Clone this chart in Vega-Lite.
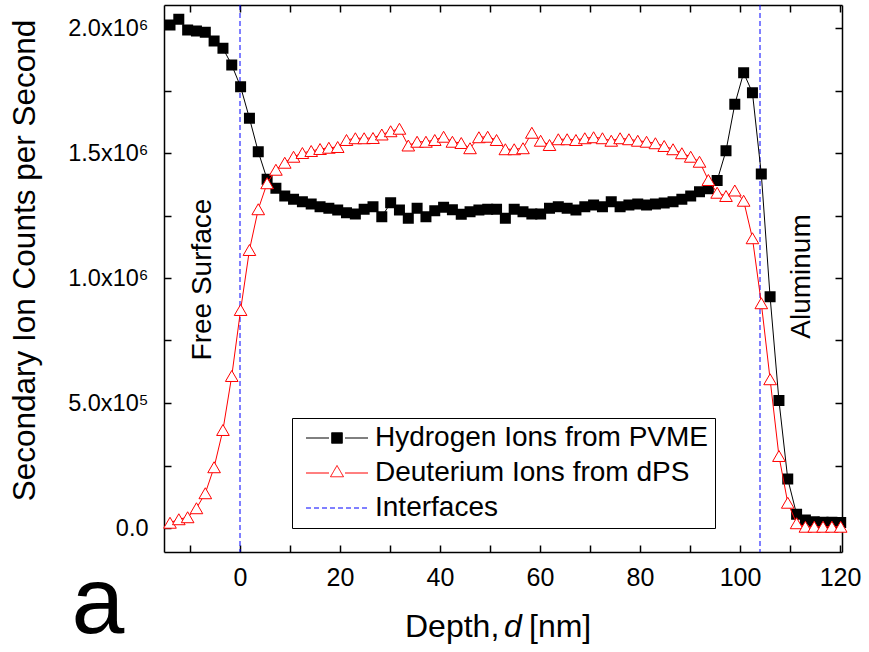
{
  "$schema": "https://vega.github.io/schema/vega-lite/v6.json",
  "width": 678,
  "height": 547,
  "autosize": {"type": "none"},
  "padding": {"left": 164, "top": 5, "right": 27, "bottom": 100},
  "background": "white",
  "config": {
    "view": {"stroke": null},
    "font": "Liberation Sans",
    "axis": {
      "domainColor": "black",
      "domainWidth": 1.5,
      "tickColor": "black",
      "tickWidth": 1.5,
      "tickSize": -7,
      "grid": false,
      "labelColor": "black",
      "labelFont": "Liberation Sans",
      "labelFlush": false,
      "labelOverlap": false,
      "labelBound": false,
      "titleColor": "black",
      "titleFont": "Liberation Sans",
      "titleFontWeight": "normal"
    },
    "legend": {
      "orient": "none",
      "legendX": 128,
      "legendY": 413,
      "padding": 6,
      "strokeColor": "black",
      "fillColor": "white",
      "symbolSize": 400,
      "symbolStrokeWidth": 1,
      "symbolOpacity": 1,
      "symbolOffset": 25,
      "labelOffset": 24,
      "labelFont": "Liberation Sans",
      "labelFontSize": 28,
      "labelColor": "black",
      "labelLimit": 500,
      "rowPadding": 7
    }
  },
  "datasets": {
    "profile": [
      {"depth": -14.00, "hydrogen": 2012000, "deuterium": 21000},
      {"depth": -12.24, "hydrogen": 2035000, "deuterium": 35000},
      {"depth": -10.47, "hydrogen": 1992000, "deuterium": 43000},
      {"depth": -8.71, "hydrogen": 1988000, "deuterium": 79000},
      {"depth": -6.94, "hydrogen": 1983000, "deuterium": 139000},
      {"depth": -5.18, "hydrogen": 1948000, "deuterium": 243000},
      {"depth": -3.41, "hydrogen": 1919000, "deuterium": 392000},
      {"depth": -1.65, "hydrogen": 1852000, "deuterium": 608000},
      {"depth": 0.12, "hydrogen": 1765000, "deuterium": 872000},
      {"depth": 1.89, "hydrogen": 1639000, "deuterium": 1112000},
      {"depth": 3.65, "hydrogen": 1505000, "deuterium": 1275000},
      {"depth": 5.42, "hydrogen": 1395000, "deuterium": 1379000},
      {"depth": 7.18, "hydrogen": 1359000, "deuterium": 1433000},
      {"depth": 8.95, "hydrogen": 1328000, "deuterium": 1461000},
      {"depth": 10.71, "hydrogen": 1315000, "deuterium": 1485000},
      {"depth": 12.48, "hydrogen": 1305000, "deuterium": 1500000},
      {"depth": 14.24, "hydrogen": 1296000, "deuterium": 1508000},
      {"depth": 16.01, "hydrogen": 1285000, "deuterium": 1516000},
      {"depth": 17.77, "hydrogen": 1279000, "deuterium": 1521000},
      {"depth": 19.54, "hydrogen": 1272000, "deuterium": 1524000},
      {"depth": 21.30, "hydrogen": 1261000, "deuterium": 1552000},
      {"depth": 23.07, "hydrogen": 1256000, "deuterium": 1559000},
      {"depth": 24.83, "hydrogen": 1275000, "deuterium": 1559000},
      {"depth": 26.60, "hydrogen": 1285000, "deuterium": 1560000},
      {"depth": 28.36, "hydrogen": 1245000, "deuterium": 1574000},
      {"depth": 30.13, "hydrogen": 1301000, "deuterium": 1587000},
      {"depth": 31.89, "hydrogen": 1272000, "deuterium": 1597000},
      {"depth": 33.66, "hydrogen": 1239000, "deuterium": 1530000},
      {"depth": 35.42, "hydrogen": 1279000, "deuterium": 1545000},
      {"depth": 37.19, "hydrogen": 1245000, "deuterium": 1545000},
      {"depth": 38.95, "hydrogen": 1269000, "deuterium": 1552000},
      {"depth": 40.72, "hydrogen": 1283000, "deuterium": 1565000},
      {"depth": 42.48, "hydrogen": 1273000, "deuterium": 1545000},
      {"depth": 44.25, "hydrogen": 1255000, "deuterium": 1540000},
      {"depth": 46.01, "hydrogen": 1265000, "deuterium": 1519000},
      {"depth": 47.78, "hydrogen": 1272000, "deuterium": 1563000},
      {"depth": 49.54, "hydrogen": 1275000, "deuterium": 1565000},
      {"depth": 51.31, "hydrogen": 1275000, "deuterium": 1552000},
      {"depth": 53.07, "hydrogen": 1239000, "deuterium": 1515000},
      {"depth": 54.84, "hydrogen": 1275000, "deuterium": 1515000},
      {"depth": 56.60, "hydrogen": 1265000, "deuterium": 1519000},
      {"depth": 58.37, "hydrogen": 1256000, "deuterium": 1581000},
      {"depth": 60.13, "hydrogen": 1256000, "deuterium": 1549000},
      {"depth": 61.90, "hydrogen": 1279000, "deuterium": 1532000},
      {"depth": 63.66, "hydrogen": 1285000, "deuterium": 1555000},
      {"depth": 65.43, "hydrogen": 1279000, "deuterium": 1555000},
      {"depth": 67.19, "hydrogen": 1272000, "deuterium": 1552000},
      {"depth": 68.96, "hydrogen": 1285000, "deuterium": 1559000},
      {"depth": 70.72, "hydrogen": 1292000, "deuterium": 1563000},
      {"depth": 72.49, "hydrogen": 1285000, "deuterium": 1559000},
      {"depth": 74.25, "hydrogen": 1305000, "deuterium": 1549000},
      {"depth": 76.02, "hydrogen": 1285000, "deuterium": 1559000},
      {"depth": 77.78, "hydrogen": 1292000, "deuterium": 1555000},
      {"depth": 79.55, "hydrogen": 1296000, "deuterium": 1549000},
      {"depth": 81.31, "hydrogen": 1292000, "deuterium": 1545000},
      {"depth": 83.08, "hydrogen": 1296000, "deuterium": 1539000},
      {"depth": 84.84, "hydrogen": 1300000, "deuterium": 1528000},
      {"depth": 86.61, "hydrogen": 1305000, "deuterium": 1515000},
      {"depth": 88.37, "hydrogen": 1315000, "deuterium": 1499000},
      {"depth": 90.14, "hydrogen": 1328000, "deuterium": 1485000},
      {"depth": 91.90, "hydrogen": 1345000, "deuterium": 1465000},
      {"depth": 93.67, "hydrogen": 1357000, "deuterium": 1392000},
      {"depth": 95.43, "hydrogen": 1390000, "deuterium": 1341000},
      {"depth": 97.20, "hydrogen": 1509000, "deuterium": 1328000},
      {"depth": 98.96, "hydrogen": 1695000, "deuterium": 1350000},
      {"depth": 100.73, "hydrogen": 1821000, "deuterium": 1309000},
      {"depth": 102.49, "hydrogen": 1741000, "deuterium": 1159000},
      {"depth": 104.26, "hydrogen": 1416000, "deuterium": 899000},
      {"depth": 106.02, "hydrogen": 925000, "deuterium": 595000},
      {"depth": 107.79, "hydrogen": 510000, "deuterium": 288000},
      {"depth": 109.55, "hydrogen": 196000, "deuterium": 101000},
      {"depth": 111.32, "hydrogen": 55000, "deuterium": 19000},
      {"depth": 113.08, "hydrogen": 32000, "deuterium": 5000},
      {"depth": 114.85, "hydrogen": 25000, "deuterium": 5000},
      {"depth": 116.61, "hydrogen": 23000, "deuterium": 5000},
      {"depth": 118.38, "hydrogen": 23000, "deuterium": 5000},
      {"depth": 120.14, "hydrogen": 22000, "deuterium": 5000}
    ]
  },
  "layer": [
    {
      "data": {"values": [{"depth": 0}, {"depth": 104}]},
      "mark": {"type": "rule", "color": "#0000ff", "strokeDash": [5, 3], "strokeWidth": 1},
      "encoding": {
        "x": {"field": "depth", "type": "quantitative", "axis": null}
      }
    },
    {
      "data": {"name": "profile"},
      "mark": {"type": "line", "color": "black", "strokeWidth": 1},
      "encoding": {
        "x": {
          "field": "depth",
          "type": "quantitative",
          "scale": {"domain": [-15.2, 120.4], "nice": false, "zero": false},
          "axis": {
            "orient": "bottom",
            "values": [-10, 0, 10, 20, 30, 40, 50, 60, 70, 80, 90, 100, 110, 120],
            "labelExpr": "datum.value >= 0 && datum.value % 20 == 0 ? datum.label : ''",
            "labelFontSize": 25,
            "labelPadding": 20,
            "title": null
          }
        },
        "y": {
          "field": "hydrogen",
          "type": "quantitative",
          "scale": {"domain": [-96000, 2092000], "nice": false, "zero": false},
          "axis": {
            "orient": "left",
            "values": [0, 250000, 500000, 750000, 1000000, 1250000, 1500000, 1750000, 2000000],
            "labelExpr": "datum.value == 0 ? '0.0' : datum.value == 500000 ? '5.0x10⁵' : datum.value == 1000000 ? '1.0x10⁶' : datum.value == 1500000 ? '1.5x10⁶' : datum.value == 2000000 ? '2.0x10⁶' : ''",
            "labelFontSize": 23.5,
            "labelPadding": 23,
            "title": "Secondary Ion Counts per Second",
            "titleFontSize": 31.5,
            "titleAngle": 270,
            "titleX": -139,
            "titleY": 255,
            "titleAlign": "center",
            "titleBaseline": "middle"
          }
        }
      }
    },
    {
      "data": {"name": "profile"},
      "mark": {"type": "square", "color": "black", "filled": true, "size": 121, "opacity": 1},
      "encoding": {
        "x": {"field": "depth", "type": "quantitative", "axis": null},
        "y": {"field": "hydrogen", "type": "quantitative", "axis": null}
      }
    },
    {
      "data": {"name": "profile"},
      "mark": {"type": "line", "color": "#ff0000", "strokeWidth": 1},
      "encoding": {
        "x": {
          "field": "depth",
          "type": "quantitative",
          "axis": {
            "orient": "top",
            "values": [-10, 0, 10, 20, 30, 40, 50, 60, 70, 80, 90, 100, 110, 120],
            "labels": false,
            "title": null
          }
        },
        "y": {
          "field": "deuterium",
          "type": "quantitative",
          "axis": {
            "orient": "right",
            "values": [0, 250000, 500000, 750000, 1000000, 1250000, 1500000, 1750000, 2000000],
            "labels": false,
            "title": null
          }
        }
      }
    },
    {
      "data": {"name": "profile"},
      "mark": {"type": "point", "shape": "triangle-up", "size": 160, "fill": "white", "fillOpacity": 1, "stroke": "#ff0000", "strokeWidth": 1, "opacity": 1},
      "encoding": {
        "x": {"field": "depth", "type": "quantitative", "axis": null},
        "y": {"field": "deuterium", "type": "quantitative", "axis": null}
      }
    },
    {
      "data": {"values": [
        {"series": "Hydrogen Ions from PVME"},
        {"series": "Deuterium Ions from dPS"},
        {"series": "Interfaces"}
      ]},
      "mark": {"type": "point", "opacity": 0, "strokeWidth": 1},
      "encoding": {
        "shape": {
          "field": "series",
          "type": "nominal",
          "scale": {
            "domain": ["Hydrogen Ions from PVME", "Deuterium Ions from dPS", "Interfaces"],
            "range": [
              "M-3.1,0H-0.8M0.8,0H3.1M-0.53,-0.53H0.53V0.53H-0.53Z",
              "M-3.1,0H-0.8M0.8,0H3.1M0,-0.75L0.65,0.375L-0.65,0.375Z",
              "M-3.1,0H3.1"
            ]
          },
          "legend": {"title": null}
        },
        "color": {
          "field": "series",
          "type": "nominal",
          "scale": {
            "domain": ["Hydrogen Ions from PVME", "Deuterium Ions from dPS", "Interfaces"],
            "range": ["#000000", "#ff0000", "#0000ff"]
          },
          "legend": {"title": null}
        },
        "fill": {
          "field": "series",
          "type": "nominal",
          "scale": {
            "domain": ["Hydrogen Ions from PVME", "Deuterium Ions from dPS", "Interfaces"],
            "range": ["#000000", "#ffffff", "transparent"]
          },
          "legend": {"title": null}
        },
        "strokeDash": {
          "field": "series",
          "type": "nominal",
          "scale": {
            "domain": ["Hydrogen Ions from PVME", "Deuterium Ions from dPS", "Interfaces"],
            "range": [[1, 0], [1, 0], [5, 3]]
          },
          "legend": {"title": null}
        }
      }
    },
    {
      "data": {"values": [{}]},
      "mark": {"type": "text", "text": "Free Surface", "angle": 270, "fontSize": 28, "align": "center", "baseline": "middle", "color": "black"},
      "encoding": {
        "x": {"datum": -7.4, "type": "quantitative", "axis": null},
        "y": {"datum": 994000, "type": "quantitative", "axis": null}
      }
    },
    {
      "data": {"values": [{}]},
      "mark": {"type": "text", "text": "Aluminum", "angle": 270, "fontSize": 28, "align": "center", "baseline": "middle", "color": "black"},
      "encoding": {
        "x": {"datum": 112.3, "type": "quantitative", "axis": null},
        "y": {"datum": 1006000, "type": "quantitative", "axis": null}
      }
    },
    {
      "data": {"values": [{}]},
      "mark": {"type": "text", "text": "Depth,", "fontSize": 32, "align": "left", "baseline": "alphabetic", "color": "black"},
      "encoding": {
        "x": {"datum": 33, "type": "quantitative", "axis": null},
        "y": {"datum": -436000, "type": "quantitative", "axis": null}
      }
    },
    {
      "data": {"values": [{}]},
      "mark": {"type": "text", "text": "d", "fontSize": 32, "fontStyle": "italic", "align": "left", "baseline": "alphabetic", "color": "black"},
      "encoding": {
        "x": {"datum": 52.8, "type": "quantitative", "axis": null},
        "y": {"datum": -436000, "type": "quantitative", "axis": null}
      }
    },
    {
      "data": {"values": [{}]},
      "mark": {"type": "text", "text": "[nm]", "fontSize": 32, "align": "left", "baseline": "alphabetic", "color": "black"},
      "encoding": {
        "x": {"datum": 57.8, "type": "quantitative", "axis": null},
        "y": {"datum": -436000, "type": "quantitative", "axis": null}
      }
    },
    {
      "data": {"values": [{}]},
      "mark": {"type": "text", "text": "a", "fontSize": 95, "align": "center", "baseline": "alphabetic", "color": "black"},
      "encoding": {
        "x": {"datum": -28.4, "type": "quantitative", "axis": null},
        "y": {"datum": -420000, "type": "quantitative", "axis": null}
      }
    }
  ],
  "resolve": {"axis": {"x": "independent", "y": "independent"}}
}
